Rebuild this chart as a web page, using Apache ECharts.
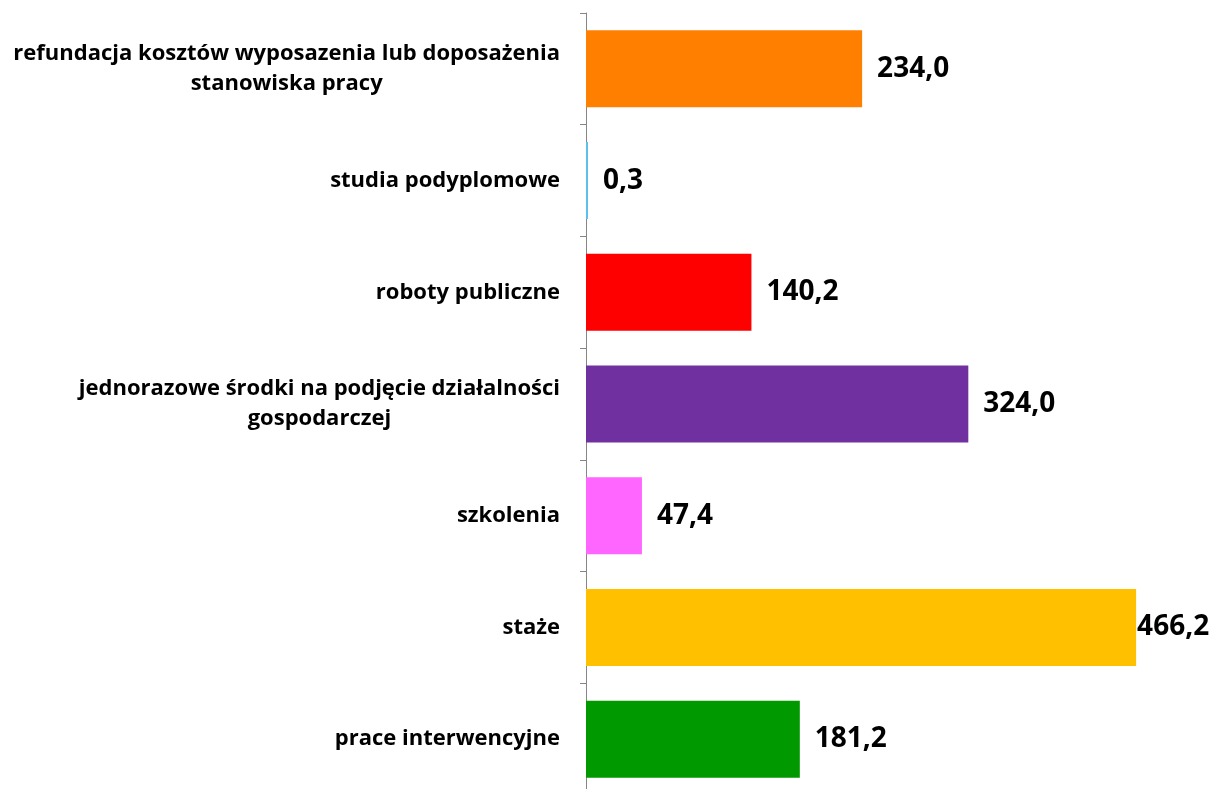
<!DOCTYPE html>
<html>
<head>
<meta charset="utf-8">
<script src="https://cdn.jsdelivr.net/npm/echarts@6/dist/echarts.min.js"></script>
<style>
html, body { margin: 0; padding: 0; background: #fff; }
#chart { width: 1213px; height: 789px; }
</style>
</head>
<body>
<div id="chart"></div>
<script>
// categories from top to bottom
var categories = [
    'refundacja kosztów wyposazenia lub doposażenia\nstanowiska pracy',
    'studia podyplomowe',
    'roboty publiczne',
    'jednorazowe środki na podjęcie działalności\ngospodarczej',
    'szkolenia',
    'staże',
    'prace interwencyjne'
];
var values = [234.0, 0.3, 140.2, 324.0, 47.4, 466.2, 181.2];
var barColors = ['#FF7F00', '#5BC0EB', '#FF0000', '#7030A0', '#FF66FF', '#FFC000', '#009900'];

var dom = document.getElementById('chart');
var myChart = echarts.init(dom);
var option = null;

var fontFamily = '"Open Sans"';

var seriesData = values.map(function (v, i) {
    var item = {
        value: v,
        itemStyle: { color: barColors[i] }
    };
    // last bar's label sits right at the bar end (clipped by plot area in original)
    if (v === 466.2) {
        item.label = { distance: 1 };
    }
    return item;
});

option = {
    animation: false,
    grid: {
        left: 586,
        right: 37,
        top: 13,
        height: 782,
        containLabel: false,
        outerBoundsMode: 'none'
    },
    xAxis: {
        type: 'value',
        min: 0,
        max: 500,
        show: false,
        splitLine: { show: false }
    },
    yAxis: {
        type: 'category',
        inverse: true,
        data: categories,
        axisLine: { show: true, lineStyle: { color: '#868686', width: 1 } },
        axisTick: { show: true, length: 6, lineStyle: { color: '#868686' } },
        axisLabel: {
            margin: 26,
            formatter: function (val) {
                return val.split('\n').map(function (s) {
                    return '{c|' + s + '}';
                }).join('\n');
            },
            rich: {
                c: {
                    align: 'center',
                    fontFamily: fontFamily,
                    fontWeight: 'bold',
                    fontSize: 22,
                    lineHeight: 30,
                    color: '#000'
                }
            }
        }
    },
    series: [
        {
            type: 'bar',
            barWidth: 77,
            barMinHeight: 2,
            data: seriesData,
            label: {
                show: true,
                position: 'right',
                distance: 15,
                fontFamily: fontFamily,
                fontWeight: 'bold',
                fontSize: 28,
                color: '#000',
                formatter: function (p) {
                    return p.value.toFixed(1).replace('.', ',');
                }
            }
        }
    ]
};

if (option && typeof option === 'object') {
    myChart.setOption(option, true);
}
</script>
</body>
</html>
